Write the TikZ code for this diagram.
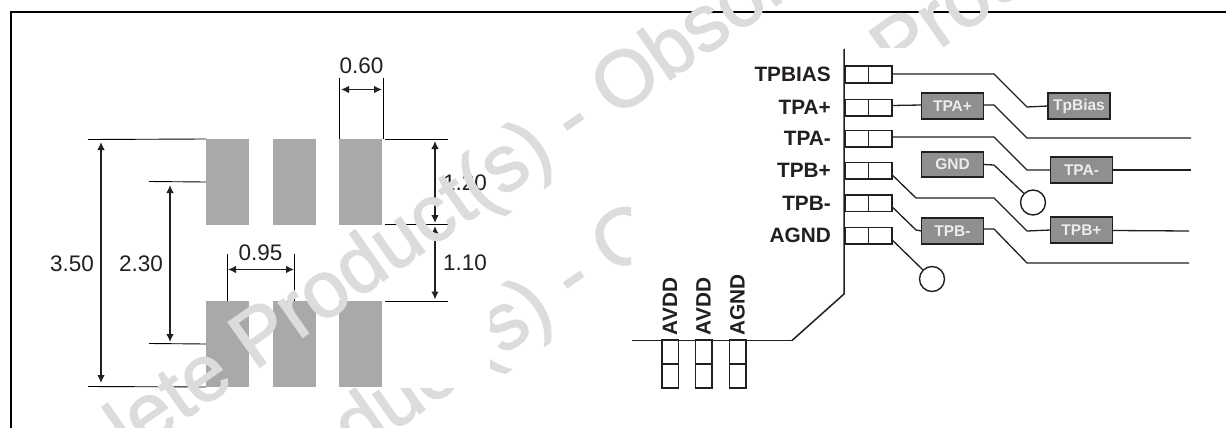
\documentclass[tikz,border=0pt]{standalone}
\usepackage{fontspec}
\setmainfont{Liberation Sans}
\newfontfamily\wmfont[FakeBold=1.6]{Liberation Sans}
\usetikzlibrary{arrows.meta}
\definecolor{ink}{HTML}{231F20}
\definecolor{pad}{HTML}{A9A9A9}
\definecolor{tagfill}{HTML}{8E8F91}
\definecolor{tagtext}{HTML}{ECECEC}
\definecolor{wm}{HTML}{DCDCDC}
\tikzset{
  x=1pt,y=-1pt,
  padbox/.style={fill=pad,draw=none,minimum width=43pt,minimum height=86pt,inner sep=0pt,outer sep=0pt},
  dimtext/.style={font=\fontsize{22.5}{23}\selectfont,text=ink,inner sep=0pt},
  extline/.style={draw=black,line width=0.9pt},
  dimarrow/.style={draw=ink,line width=1.3pt,{Latex[length=8pt,width=7.5pt]}-{Latex[length=8pt,width=7.5pt]}},
  pinlabel/.style={font=\fontsize{20.8}{22}\selectfont\bfseries,text=ink,inner sep=0pt,anchor=east},
  pincell/.style={draw=ink,line width=1.5pt,minimum width=23.5pt,minimum height=16.5pt,inner sep=0pt,outer sep=0pt},
  vcell/.style={draw=ink,line width=1.5pt,minimum width=16.5pt,minimum height=24pt,inner sep=0pt,outer sep=0pt},
  tag/.style={fill=tagfill,draw=ink,line width=1.6pt,minimum width=62pt,minimum height=25.5pt,inner sep=0pt,outer sep=0pt,text=tagtext,font=\fontsize{15.5}{16}\selectfont\bfseries},
  wire/.style={draw=ink,line width=1.3pt},
  gnd/.style={circle,draw=ink,line width=1.4pt,fill=white,minimum size=25pt,inner sep=0pt,outer sep=0pt},
  bus/.style={draw=ink,line width=1.5pt},
  wmark/.style={font=\wmfont\fontsize{80}{84}\selectfont,text=wm,inner sep=0pt,rotate=35}
}
\begin{document}
\begin{tikzpicture}
\useasboundingbox (0,0) rectangle (1226,428);
\fill[white] (0,0) rectangle (1226,428);
% frame
\coordinate (fbl) at (11,428); \coordinate (ftl) at (11,12); \coordinate (ftr) at (1226,12);
\draw[black,line width=2pt] (fbl) -- (ftl) -- (ftr);
% pads
\node[padbox] (p1) at (227.5,182) {};
\node[padbox] (p2) at (294.5,182) {};
\node[padbox] (p3) at (360.5,182) {};
\node[padbox] (p4) at (227.5,344) {};
\node[padbox] (p5) at (294.5,344) {};
\node[padbox] (p6) at (360.5,344) {};
% extension lines
\coordinate (x1) at (88,139.5); \coordinate (x2) at (88,386.5);
\coordinate (x3) at (149,181.5); \coordinate (x4) at (149,343.5);
\draw[extline] (x1) -- (p1.north west);
\draw[extline] (x2) -- (p4.south west);
\draw[extline] (x3) -- (p1.west);
\draw[extline] (x4) -- (p4.west);
\coordinate (r1a) at (385,139.5); \coordinate (r1b) at (448,139.5);
\coordinate (r2a) at (385,224.5); \coordinate (r2b) at (448,224.5);
\coordinate (r3a) at (385,301.5); \coordinate (r3b) at (448,301.5);
\draw[extline] (r1a) -- (r1b);
\draw[extline] (r2a) -- (r2b);
\draw[extline] (r3a) -- (r3b);
\coordinate (t1a) at (339.5,78); \coordinate (t1b) at (339.5,139);
\coordinate (t2a) at (383.5,78); \coordinate (t2b) at (383.5,139);
\draw[extline] (t1a) -- (t1b);
\draw[extline] (t2a) -- (t2b);
\coordinate (m1a) at (227.5,254); \coordinate (m1b) at (227.5,301);
\coordinate (m2a) at (294.5,254); \coordinate (m2b) at (294.5,301);
\draw[extline] (m1a) -- (m1b);
\draw[extline] (m2a) -- (m2b);
% dimension arrows
\coordinate (a1a) at (101,142); \coordinate (a1b) at (101,383);
\coordinate (a2a) at (170,185); \coordinate (a2b) at (170,342);
\coordinate (a3a) at (435,141); \coordinate (a3b) at (435,223);
\coordinate (a4a) at (435,226); \coordinate (a4b) at (435,299.5);
\coordinate (a5a) at (341,89.5); \coordinate (a5b) at (382,89.5);
\coordinate (a6a) at (228,269.5); \coordinate (a6b) at (294,269.5);
\draw[dimarrow] (a1a) -- (a1b);
\draw[dimarrow] (a2a) -- (a2b);
\draw[dimarrow] (a3a) -- (a3b);
\draw[dimarrow] (a4a) -- (a4b);
\draw[dimarrow] (a5a) -- (a5b);
\draw[dimarrow] (a6a) -- (a6b);
% dimension text
\node[dimtext] (d060) at (361.5,66) {0.60};
\node[dimtext] (d095) at (260.5,253) {0.95};
\node[dimtext] (d350) at (72,263.5) {3.50};
\node[dimtext] (d230) at (141,263.5) {2.30};
\node[dimtext] (d120) at (465,182.5) {1.20};
\node[dimtext] (d110) at (465,262.5) {1.10};
% package outline
\coordinate (bustop) at (844,49); \coordinate (busbend) at (844,294);
\coordinate (busb2) at (792,340.5); \coordinate (busend) at (632,340.5);
\draw[bus] (bustop) -- (busbend) -- (busb2);
\draw[draw=ink,line width=1.1pt] (busb2) -- (busend);
% right pins
\foreach \n/\y/\t in {a/74.5/TPBIAS,b/107.5/TPA+,c/138.5/TPA-,d/170.5/TPB+,e/203/TPB-,f/235.5/AGND}{
  \node[pincell] (pin\n1) at (856.5,\y) {};
  \node[pincell,anchor=west] (pin\n2) at (pin\n1.east) {};
  \node[pinlabel] (lab\n) at (831,\y) {\t};
}
% bottom pins
\foreach \n/\x/\t in {g/670/AVDD,h/703.5/AVDD,i/737.5/AGND}{
  \node[vcell] (pin\n1) at (\x,352) {};
  \node[vcell,anchor=north] (pin\n2) at (pin\n1.south) {};
  \node[font=\fontsize{20.8}{22}\selectfont\bfseries,text=ink,inner sep=0pt,rotate=90,anchor=west] (lab\n) at (\x,335.5) {\t};
}
% tags
\node[tag] (tpbias) at (1079,106) {TpBias};
\node[tag] (tpap) at (952.5,106) {TPA+};
\node[tag] (tpam) at (1081.5,170) {TPA-};
\node[tag] (tgnd) at (952.5,164.5) {GND};
\node[tag] (tpbp) at (1081.5,230) {TPB+};
\node[tag] (tpbm) at (952.5,231) {TPB-};
\node[gnd] (gc1) at (1033,202.5) {};
\node[gnd] (gc2) at (932,279) {};
% free ends
\coordinate (o1) at (1191,138); \coordinate (o2) at (1191,170);
\coordinate (o3) at (1189,231); \coordinate (o4) at (1189,263);
% connectors
\draw[wire] ([yshift=0.5pt]pina2.east) -- (994,74) -- (1027,107) -- (tpbias.west);
\draw[wire] ([yshift=2pt]pinb2.east) -- ([yshift=1pt]tpap.west);
\draw[wire] ([yshift=1pt]tpap.east) -- (994,105) -- (1027,138) -- (o1);
\draw[wire] ([yshift=1.5pt]pinc2.east) -- (994,137) -- (1027,170) -- (tpam.west);
\draw[wire] (tpam.east) -- (o2);
\draw[wire] (tgnd.east) -- (994,165) -- (gc1.135);
\draw[wire] ([yshift=-4pt]pind2.east) -- (916,198) -- (994,198) -- (1027,231) -- (tpbp.west);
\draw[wire] ([yshift=-0.5pt]tpbp.east) -- (o3);
\draw[wire] ([yshift=-3.5pt]pine2.east) -- (916,230) -- (tpbm.west);
\draw[wire] ([yshift=2pt]tpbm.east) -- (994,229) -- (1027,263) -- (o4);
\draw[wire] ([yshift=-4pt]pinf2.east) -- (gc2.135);
% watermark
\begin{scope}
\clip (0,0) rectangle (840,428);
\node[wmark] (w1) at (574,122) {Obsolete Product(s) - Obsolete Product(s)};
\end{scope}
\begin{scope}
\clip (490,0) rectangle (631,428) (0,388) rectangle (490,428) (840,0) rectangle (1226,48);
\node[wmark] (w2) at (574,280) {Obsolete Product(s) - Obsolete Product(s)};
\end{scope}
\end{tikzpicture}
\end{document}
